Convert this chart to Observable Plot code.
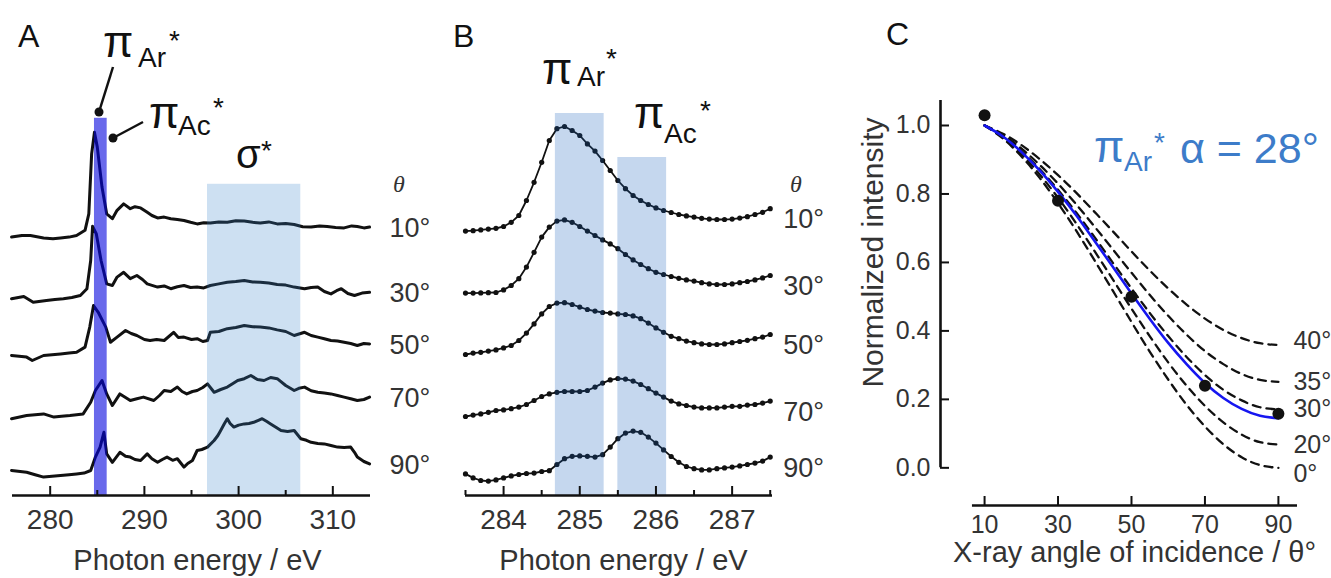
<!DOCTYPE html>
<html><head><meta charset="utf-8">
<script src="https://cdn.jsdelivr.net/npm/d3@7"></script>
<script src="https://cdn.jsdelivr.net/npm/@observablehq/plot@0.6"></script>
<style>
html,body{margin:0;padding:0;background:#fff;}
#fig{position:relative;width:1331px;height:578px;overflow:hidden;font-family:"Liberation Sans",Arial,sans-serif;}
#fig > svg{position:absolute;top:0;}
</style></head><body><div id="fig"></div>
<script>
// ---------- DATA ----------
const thetas = [10, 30, 50, 70, 90];

// Panel A: C K-edge NEXAFS spectra (photon energy eV, offset intensity a.u.)
const specA10 = [[275.9,6.46],[277.0,6.50],[277.9,6.5],[279.3,6.44],[280.3,6.42],[281.1,6.44],[282.0,6.46],[282.8,6.5],[283.7,6.63],[284.1,7.04],[284.4,8.54],[284.7,9.08],[285.0,8.71],[285.5,7.71],[286.0,7.04],[286.6,6.92],[287.1,7.13],[287.8,7.29],[288.5,7.17],[289.0,7.22],[289.6,7.19],[290.3,7.08],[290.8,7.0],[291.4,6.94],[292.1,6.96],[292.8,6.92],[293.5,6.9],[294.2,6.875],[294.9,6.83],[295.6,6.79],[296.3,6.82],[297.0,6.81],[297.9,6.84],[298.8,6.83],[299.7,6.87],[300.6,6.86],[301.5,6.83],[302.3,6.81],[303.2,6.84],[304.1,6.79],[305.0,6.8],[305.9,6.775],[306.8,6.72],[307.7,6.71],[308.6,6.74],[309.4,6.725],[310.3,6.7],[311.2,6.69],[312.0,6.74],[312.6,6.725],[313.3,6.69],[313.9,6.71]];
const specA30 = [[275.9,4.92],[277.2,4.975],[278.2,4.83],[279.6,4.875],[280.5,4.9],[281.4,4.92],[282.3,4.95],[283.2,5.0],[283.9,5.17],[284.3,5.875],[284.5,6.73],[284.9,6.54],[285.4,5.875],[286.0,5.29],[286.6,5.25],[287.1,5.46],[287.8,5.58],[288.5,5.42],[289.2,5.5],[289.8,5.4],[290.3,5.29],[291.4,5.21],[292.1,5.24],[292.8,5.17],[293.5,5.22],[294.2,5.25],[294.9,5.2],[295.6,5.21],[296.3,5.19],[297.0,5.25],[297.9,5.29],[298.8,5.33],[299.7,5.35],[300.6,5.375],[301.5,5.34],[302.3,5.33],[303.2,5.31],[304.1,5.275],[305.0,5.26],[305.9,5.21],[307.0,5.17],[307.7,5.2],[308.4,5.21],[309.1,5.1],[309.8,5.04],[310.4,5.12],[310.9,5.17],[311.6,5.05],[312.3,5.0],[313.1,5.06],[313.9,5.08]];
const specA50 = [[275.9,3.5],[277.5,3.46],[278.1,3.375],[279.3,3.5],[280.2,3.52],[281.1,3.54],[282.0,3.56],[282.8,3.58],[283.7,3.71],[284.2,4.21],[284.6,4.75],[285.1,4.58],[285.9,4.21],[286.4,3.83],[287.1,3.96],[288.0,4.125],[288.6,4.05],[289.2,4.0],[290.0,3.9],[290.6,3.875],[291.3,3.9],[292.1,3.875],[293.1,4.08],[293.6,3.95],[294.2,3.96],[295.0,3.9],[295.6,3.92],[296.2,3.85],[296.7,3.875],[297.0,4.08],[297.9,4.1],[298.8,4.17],[299.7,4.2],[300.6,4.25],[301.5,4.22],[302.3,4.21],[303.2,4.19],[304.1,4.14],[305.0,4.1],[305.9,4.0],[307.0,4.08],[307.7,4.0],[308.4,3.96],[309.1,3.92],[309.8,3.875],[310.5,3.86],[311.2,3.83],[311.9,3.8],[312.6,3.75],[313.3,3.8],[313.9,3.79]];
const specA70 = [[275.9,1.92],[277.5,2.0],[279.3,2.04],[280.4,1.96],[281.2,1.98],[282.1,2.0],[283.5,2.04],[284.3,2.33],[284.8,2.625],[285.5,2.875],[286.0,2.54],[286.6,2.25],[287.4,2.54],[288.0,2.45],[288.5,2.375],[289.2,2.42],[289.9,2.46],[291.0,2.375],[291.6,2.5],[292.1,2.625],[292.8,2.6],[293.5,2.71],[294.0,2.6],[294.5,2.54],[295.1,2.6],[295.6,2.625],[296.2,2.7],[296.7,2.79],[297.4,2.58],[298.1,2.65],[298.8,2.71],[299.4,2.8],[299.9,2.875],[300.6,2.92],[301.3,3.0],[302.0,2.9],[302.7,2.875],[303.4,2.95],[304.1,2.92],[305.0,2.75],[305.9,2.625],[306.4,2.68],[307.0,2.71],[307.7,2.62],[308.4,2.58],[309.1,2.56],[309.8,2.54],[310.5,2.5],[311.2,2.46],[311.9,2.42],[312.6,2.375],[313.3,2.4],[313.9,2.46]];
const specA90 = [[275.9,0.625],[277.5,0.58],[278.4,0.52],[279.3,0.46],[280.2,0.48],[281.1,0.5],[282.0,0.52],[282.8,0.54],[283.6,0.56],[284.3,0.625],[284.8,0.96],[285.3,1.21],[285.7,1.58],[286.0,1.04],[286.6,0.83],[287.4,1.08],[288.0,0.98],[288.5,0.96],[289.0,0.9],[289.6,0.875],[290.3,1.04],[290.8,0.92],[291.4,0.83],[291.9,0.9],[292.4,0.96],[293.0,0.88],[293.5,0.92],[293.9,0.8],[294.2,0.71],[294.6,0.8],[295.1,0.875],[295.6,1.125],[296.1,1.15],[296.7,1.21],[297.4,1.375],[297.8,1.5],[298.1,1.625],[298.5,1.8],[298.8,1.92],[299.1,1.8],[299.5,1.71],[300.0,1.76],[300.6,1.79],[301.1,1.8],[301.6,1.83],[302.1,1.88],[302.5,1.92],[303.0,1.85],[303.4,1.79],[304.0,1.7],[304.5,1.625],[305.2,1.6],[305.9,1.625],[306.6,1.42],[307.2,1.38],[307.7,1.33],[308.4,1.3],[309.1,1.29],[309.8,1.25],[310.5,1.21],[311.2,1.2],[311.9,1.21],[312.3,1.08],[312.6,0.96],[313.3,0.85],[313.9,0.79]];
const spectraA = [specA10, specA30, specA50, specA70, specA90];
const ticksA = [280, 290, 300, 310];
const minorTicksA = [285, 295, 305];
const bandPiA = {x1: 284.7, x2: 286.05, top: 9.43};
const bandSigmaA = {x1: 296.7, x2: 306.6, top: 7.78};

// Panel B: pi* region
const energyB = [283.5,283.6,283.7,283.8,283.9,284.0,284.1,284.2,284.3,284.4,284.5,284.6,284.7,284.8,284.9,285.0,285.1,285.2,285.3,285.4,285.5,285.6,285.7,285.8,285.9,286.0,286.1,286.2,286.3,286.4,286.5,286.6,286.7,286.8,286.9,287.0,287.1,287.2,287.3,287.4,287.5];
const specB10 = [6.61,6.62,6.64,6.66,6.68,6.725,6.83,7.0,7.375,7.83,8.33,8.875,9.17,9.225,9.125,9.0,8.79,8.61,8.375,8.125,7.875,7.67,7.5,7.375,7.275,7.19,7.125,7.075,7.025,6.99,6.96,6.93,6.91,6.9,6.9,6.91,6.935,6.97,7.025,7.08,7.17];
const specB30 = [5.06,5.06,5.065,5.07,5.075,5.14,5.25,5.42,5.71,6.08,6.46,6.71,6.86,6.89,6.83,6.725,6.61,6.5,6.39,6.29,6.17,6.025,5.89,5.775,5.67,5.58,5.525,5.475,5.43,5.39,5.36,5.32,5.29,5.275,5.275,5.29,5.32,5.35,5.39,5.44,5.5];
const specB50 = [3.525,3.56,3.58,3.61,3.64,3.69,3.75,3.875,4.06,4.29,4.54,4.725,4.81,4.82,4.775,4.71,4.65,4.61,4.575,4.56,4.54,4.525,4.49,4.42,4.31,4.19,4.08,3.98,3.92,3.86,3.82,3.79,3.775,3.775,3.79,3.82,3.85,3.88,3.92,3.96,4.025];
const specB70 = [1.975,2.01,2.04,2.08,2.125,2.14,2.17,2.21,2.275,2.375,2.475,2.54,2.58,2.6,2.6,2.6,2.625,2.71,2.81,2.89,2.925,2.91,2.86,2.775,2.67,2.56,2.46,2.36,2.29,2.25,2.21,2.19,2.19,2.19,2.21,2.23,2.23,2.26,2.275,2.31,2.36];
const specB90 = [0.54,0.44,0.375,0.36,0.39,0.44,0.49,0.525,0.55,0.56,0.6,0.62,0.775,0.92,0.98,0.99,0.98,0.96,1.02,1.21,1.42,1.56,1.61,1.58,1.46,1.31,1.14,0.975,0.83,0.725,0.67,0.64,0.64,0.67,0.69,0.71,0.74,0.775,0.81,0.86,0.96];
const spectraB = [specB10, specB30, specB50, specB70, specB90];
const ticksB = [284, 285, 286, 287];
const minorTicksB = [283.5, 284.5, 285.5, 286.5, 287.5];
const bandArB = {x1: 284.68, x2: 285.32, top: 9.55};
const bandAcB = {x1: 285.5, x2: 286.14, top: 8.45};

// Panel C: angular dependence
const angleGrid = [10,15,20,25,30,35,40,45,50,55,60,65,70,75,80,85,90];
const alphasDashed = [0, 20, 30, 35, 40];
const theory0  = [1.0,0.962,0.910,0.847,0.773,0.692,0.605,0.516,0.426,0.339,0.258,0.184,0.121,0.069,0.031,0.008,0.0];
const theory20 = [1.0,0.965,0.917,0.857,0.789,0.713,0.632,0.549,0.465,0.384,0.308,0.240,0.181,0.133,0.097,0.075,0.068];
const theory30 = [1.0,0.969,0.926,0.873,0.812,0.745,0.673,0.598,0.524,0.452,0.385,0.324,0.271,0.228,0.197,0.177,0.171];
const theory35 = [1.0,0.972,0.933,0.885,0.830,0.769,0.704,0.637,0.570,0.505,0.444,0.389,0.341,0.303,0.274,0.257,0.251];
const theory40 = [1.0,0.976,0.943,0.902,0.855,0.803,0.747,0.690,0.632,0.576,0.524,0.477,0.436,0.403,0.379,0.364,0.359];
const theoryDashed = [theory0, theory20, theory30, theory35, theory40];
const fit28 = [1.0,0.968,0.923,0.869,0.806,0.737,0.662,0.586,0.509,0.435,0.365,0.303,0.248,0.204,0.172,0.152,0.145];
const measuredAngle = [10, 30, 50, 70, 90];
const measuredIntensity = [1.03, 0.78, 0.50, 0.24, 0.158];
const ticksCx = [10, 30, 50, 70, 90];
const ticksCy = [0, 0.2, 0.4, 0.6, 0.8, 1.0];
const domainCx = [-2, 95.2];
const domainCy = [-0.11, 1.073];
const axisCxExtent = [6.7, 95.2];

// ---------- BUILD ----------
const FONT = '"Liberation Sans", Arial, sans-serif';
const fig = document.getElementById("fig");
const INK = "#111";
const GREY = "#333";

const tableA = thetas.flatMap((t, i) => spectraA[i].map(([e, v]) => ({theta: t, e, v})));
const plotA = Plot.plot({
  width: 440, height: 578, marginLeft: 12, marginRight: 70, marginTop: 95, marginBottom: 83,
  x: {domain: [276, 314]}, y: {domain: [0, 10], axis: null},
  style: {fontFamily: FONT, overflow: "visible", background: "transparent"},
  marks: [
    Plot.line(tableA, {x: "e", y: "v", z: "theta", stroke: INK, strokeWidth: 3, strokeLinejoin: "round"}),
    Plot.rect([bandPiA], {x1: "x1", x2: "x2", y1: 0, y2: "top", fill: "#0505de", fillOpacity: 0.6}),
    Plot.rect([bandSigmaA], {x1: "x1", x2: "x2", y1: 0, y2: "top", fill: "#3884cc", fillOpacity: 0.25}),
    Plot.ruleY([0], {stroke: INK, strokeWidth: 2.6}),
    Plot.tickX(ticksA, {x: d => d, insetTop: 391, stroke: INK, strokeWidth: 2}),
    Plot.tickX(minorTicksA, {x: d => d, insetTop: 395, stroke: INK, strokeWidth: 2}),
    Plot.axisX({ticks: ticksA, tickSize: 0, tickPadding: 14, fontSize: 28, color: GREY, label: null, tickFormat: d => d}),
    Plot.text(tableA, Plot.selectLast({x: "e", y: "v", z: "theta", text: d => d.theta + "°", dx: 20, dy: 1, textAnchor: "start", fontSize: 27, fill: GREY}))
  ]
});
plotA.style.left = "0px";
fig.appendChild(plotA);

const tableB = thetas.flatMap((t, i) => spectraB[i].map((v, j) => ({theta: t, e: energyB[j], v})));
const plotB = Plot.plot({
  width: 400, height: 578, marginLeft: 25, marginRight: 68, marginTop: 95, marginBottom: 83,
  x: {domain: [283.5, 287.53]}, y: {domain: [0, 10], axis: null},
  style: {fontFamily: FONT, overflow: "visible", background: "transparent"},
  marks: [
    Plot.line(tableB, {x: "e", y: "v", z: "theta", stroke: INK, strokeWidth: 1.8}),
    Plot.dot(tableB, {x: "e", y: "v", r: 2.6, fill: INK}),
    Plot.rect([bandArB, bandAcB], {x1: "x1", x2: "x2", y1: 0, y2: "top", fill: "#1860bc", fillOpacity: 0.25}),
    Plot.ruleY([0], {stroke: INK, strokeWidth: 2.6}),
    Plot.tickX(ticksB, {x: d => d, insetTop: 391, stroke: INK, strokeWidth: 2}),
    Plot.tickX(minorTicksB, {x: d => d, insetTop: 395, stroke: INK, strokeWidth: 2}),
    Plot.axisX({ticks: ticksB, tickSize: 0, tickPadding: 14, fontSize: 28, color: GREY, label: null, tickFormat: d => d}),
    Plot.text(tableB, Plot.selectLast({x: "e", y: "v", z: "theta", text: d => d.theta + "°", dx: 13, dy: 11, textAnchor: "start", fontSize: 27, fill: GREY}))
  ]
});
plotB.style.left = "440px";
fig.appendChild(plotB);

const dashedTable = alphasDashed.flatMap((a, i) => theoryDashed[i].map((v, j) => ({alpha: a, theta: angleGrid[j], v})));
const fitTable = fit28.map((v, j) => ({theta: angleGrid[j], v}));
const measTable = measuredAngle.map((a, i) => ({theta: a, v: measuredIntensity[i]}));
const labelC = (rows, dy) => Plot.text(rows, Plot.selectLast({x: "theta", y: "v", z: "alpha", text: d => d.alpha + "°", dx: 15, dy, textAnchor: "start", fontSize: 25, fill: GREY}));
const plotC = Plot.plot({
  width: 471, height: 578, marginLeft: 80, marginRight: 34, marginTop: 100, marginBottom: 73,
  x: {domain: domainCx}, y: {domain: domainCy},
  style: {fontFamily: FONT, overflow: "visible", background: "transparent"},
  marks: [
    Plot.line(dashedTable, {x: "theta", y: "v", z: "alpha", stroke: INK, strokeWidth: 2.3, strokeDasharray: "8,6", curve: "natural"}),
    Plot.line(fitTable, {x: "theta", y: "v", stroke: "#1616f0", strokeWidth: 2.6, curve: "natural"}),
    Plot.dot(measTable, {x: "theta", y: "v", r: 6, fill: INK}),
    Plot.ruleX([domainCx[0]], {y1: 0, y2: domainCy[1], stroke: INK, strokeWidth: 2.6}),
    Plot.ruleY([domainCy[0]], {x1: axisCxExtent[0], x2: axisCxExtent[1], stroke: INK, strokeWidth: 2.6}),
    Plot.tickX(ticksCx, {x: d => d, insetTop: 396, stroke: INK, strokeWidth: 2}),
    Plot.tickY(ticksCy, {y: d => d, insetRight: 348, stroke: INK, strokeWidth: 2}),
    Plot.axisX({ticks: ticksCx, tickSize: 0, tickPadding: 10, fontSize: 25, color: GREY, label: null, tickFormat: d => d}),
    Plot.axisY({ticks: ticksCy, tickSize: 0, tickPadding: 10, fontSize: 25, color: GREY, label: null, tickFormat: d3.format(".1f")}),
    labelC(dashedTable.filter(d => d.alpha === 40), -4),
    labelC(dashedTable.filter(d => d.alpha > 0 && d.alpha < 40), 0),
    labelC(dashedTable.filter(d => d.alpha === 0), 6)
  ]
});
plotC.style.left = "860px";
fig.appendChild(plotC);

// ---------- ANNOTATIONS (text overlay) ----------
const ns = "http://www.w3.org/2000/svg";
const ov = document.createElementNS(ns, "svg");
ov.setAttribute("width", 1331); ov.setAttribute("height", 578);
ov.style.left = "0px"; ov.style.fontFamily = FONT;
function txt(x, y, s, size, opts = {}) {
  const t = document.createElementNS(ns, "text");
  t.setAttribute("x", x); t.setAttribute("y", y);
  t.setAttribute("font-size", size);
  t.setAttribute("fill", opts.fill || INK);
  if (opts.anchor) t.setAttribute("text-anchor", opts.anchor);
  if (opts.italic) t.setAttribute("font-style", "italic");
  if (opts.family) t.setAttribute("font-family", opts.family);
  if (opts.transform) { t.setAttribute("transform", opts.transform); t.removeAttribute("x"); t.removeAttribute("y"); }
  t.textContent = s; ov.appendChild(t); return t;
}
function ln(x1, y1, x2, y2) {
  const l = document.createElementNS(ns, "line");
  l.setAttribute("x1", x1); l.setAttribute("y1", y1); l.setAttribute("x2", x2); l.setAttribute("y2", y2);
  l.setAttribute("stroke", INK); l.setAttribute("stroke-width", 2.5); ov.appendChild(l);
}
function dotc(cx, cy) {
  const c = document.createElementNS(ns, "circle");
  c.setAttribute("cx", cx); c.setAttribute("cy", cy); c.setAttribute("r", 4.5); c.setAttribute("fill", INK); ov.appendChild(c);
}
// panel letters
txt(18, 47, "A", 32); txt(453, 47, "B", 32); txt(886, 45, "C", 32);
// Panel A peak labels
txt(103, 57, "π", 44); txt(138, 67, "Ar", 28); txt(169, 50, "*", 28);
ln(99, 112, 113, 67); dotc(99, 112);
txt(149, 128, "π", 44); txt(178, 135, "Ac", 28); txt(213, 117, "*", 28);
ln(113, 138, 143, 122); dotc(113, 138);
txt(236, 168, "σ", 40); txt(261, 160, "*", 28);
txt(393, 192, "θ", 24, {italic: true, family: '"Liberation Serif", serif', fill: GREY});
// Panel B peak labels
txt(542, 84, "π", 44); txt(577, 86, "Ar", 28); txt(606, 68, "*", 28);
txt(634, 128, "π", 44); txt(664, 143, "Ac", 28); txt(700, 120, "*", 28);
txt(790, 192, "θ", 24, {italic: true, family: '"Liberation Serif", serif', fill: GREY});
// Panel C annotation
const CBLUE = "#3d7cc9";
txt(1094, 162, "π", 44, {fill: CBLUE}); txt(1124, 171, "Ar", 28, {fill: CBLUE}); txt(1154, 152, "*", 28, {fill: CBLUE});
txt(1180, 163, "α = 28°", 43, {fill: CBLUE});
// axis titles
txt(197.5, 570, "Photon energy / eV", 29, {anchor: "middle", fill: GREY});
txt(623.5, 570, "Photon energy / eV", 29, {anchor: "middle", fill: GREY});
txt(1134.5, 562, "X-ray angle of incidence / θ°", 29, {anchor: "middle", fill: GREY});
txt(0, 0, "Normalized intensity", 30, {anchor: "middle", fill: GREY, transform: "translate(883,252.5) rotate(-90)"});
fig.appendChild(ov);
</script></body></html>
